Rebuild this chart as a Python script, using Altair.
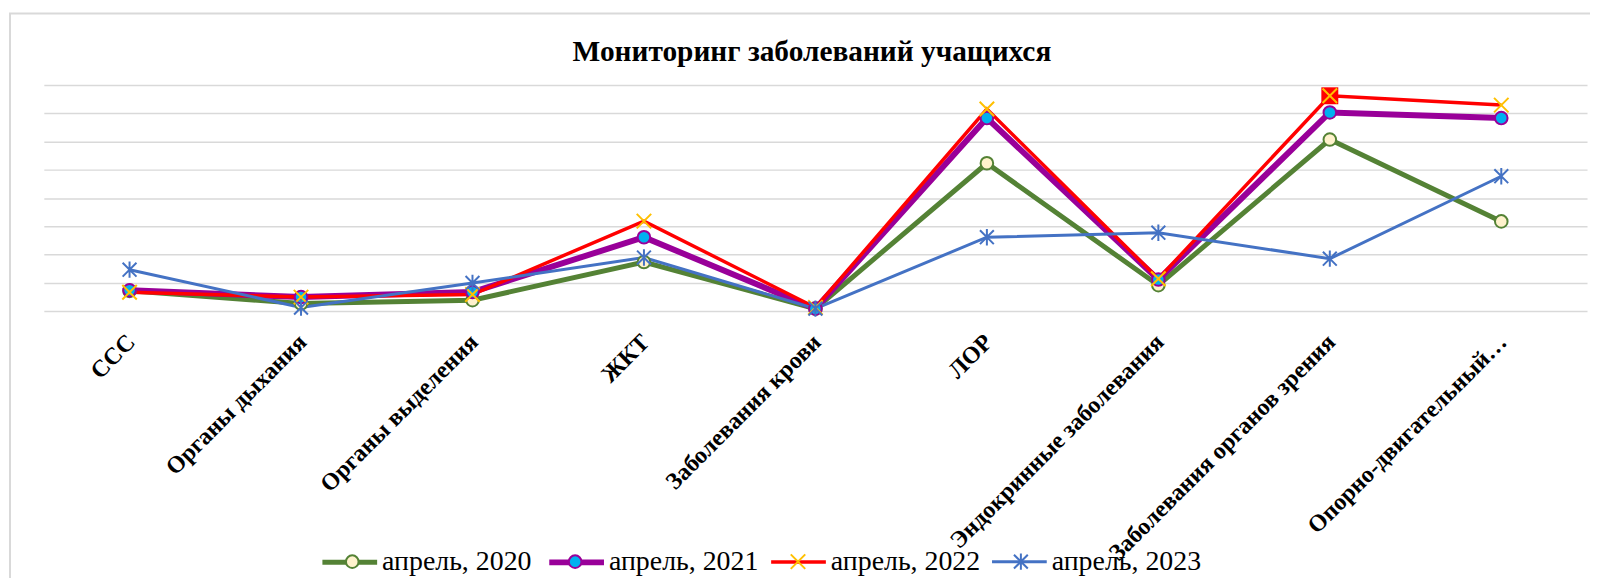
import altair as alt
import pandas as pd

# ---- data (in gridline units) ----
categories = [
    "ССС",
    "Органы дыхания",
    "Органы выделения",
    "ЖКТ",
    "Заболевания крови",
    "ЛОР",
    "Эндокринные заболевания",
    "Заболевания органов зрения",
    "Опорно-двигательный…",
]
series_names = ["апрель, 2020", "апрель, 2021", "апрель, 2022", "апрель, 2023"]
v2020 = [0.71, 0.26, 0.38, 1.73, 0.08, 5.23, 0.91, 6.07, 3.17]
v2021 = [0.73, 0.49, 0.67, 2.61, 0.08, 6.83, 1.11, 7.03, 6.83]
v2022 = [0.66, 0.49, 0.58, 3.18, 0.12, 7.15, 1.14, 7.62, 7.29]
v2023 = [1.46, 0.12, 0.99, 1.89, 0.08, 2.61, 2.77, 1.85, 4.77]
highlight_category = "Заболевания органов зрения"
highlight_series = "апрель, 2022"

# ---- styles ----
line_colors = ["#548235", "#990099", "#ff0000", "#4472c4"]
line_widths = [5, 6, 3.5, 3]
X_PATH = "M-1.15,-1.15L1.15,1.15M-1.15,1.15L1.15,-1.15"
STAR_PATH = "M-1.1,-1.1L1.1,1.1M-1.1,1.1L1.1,-1.1M0,-1.3L0,1.3"
marker_shapes = ["circle", "circle", X_PATH, STAR_PATH]
marker_fills = ["#fff2cc", "#00b0f0", "transparent", "transparent"]
marker_strokes = ["#548235", "#990099", "#ffc000", "#4472c4"]

rows = []
for name, vals in zip(series_names, [v2020, v2021, v2022, v2023]):
    for c, v in zip(categories, vals):
        rows.append({"category": c, "series": name, "series_m": name, "value": v})
df = pd.DataFrame(rows)

W, H = 1551, 227
FONT = "Liberation Serif"

x = alt.X(
    "category:N",
    sort=categories,
    scale=alt.Scale(type="point", padding=0.5),
    axis=alt.Axis(
        title=None, labelAngle=-45, labelFont=FONT, labelFontWeight="bold",
        labelFontSize=24, labelColor="black", labelPadding=19, labelOffset=-7,
        ticks=False, domain=False, grid=False, labelLimit=1000, labelOverlap=False,
    ),
)
y = alt.Y(
    "value:Q",
    scale=alt.Scale(domain=[0, 8], nice=False, zero=True),
    axis=alt.Axis(
        title=None, labels=False, ticks=False, domain=False,
        values=list(range(9)), grid=True, gridColor="#d9d9d9", gridWidth=1.5,
    ),
)

LX, LY = 277, 449

lines = alt.Chart(df).mark_line().encode(
    x=x,
    y=y,
    color=alt.Color(
        "series:N",
        scale=alt.Scale(domain=series_names, range=line_colors),
        legend=alt.Legend(
            title=None, orient="none", direction="horizontal", columns=4,
            legendX=LX, legendY=LY, symbolType="stroke", symbolSize=3025,
            symbolStrokeWidth=5, labelOffset=2, labelFont=FONT,
            labelFontSize=28, labelColor="black", columnPadding=5, labelLimit=500,
        ),
    ),
    strokeWidth=alt.StrokeWidth(
        "series:N",
        scale=alt.Scale(type="ordinal", domain=series_names, range=line_widths),
        legend=None,
    ),
)

pleg = alt.Legend(
    title=None, orient="none", direction="horizontal", columns=4,
    legendX=LX + 19, legendY=LY + 16, symbolSize=160, symbolStrokeWidth=2,
    labelExpr="''", labelOffset=0, labelFontSize=28, columnPadding=196,
)
points = alt.Chart(df).mark_point(size=160, strokeWidth=2, opacity=1).encode(
    x=x,
    y=y,
    shape=alt.Shape("series_m:N", scale=alt.Scale(range=marker_shapes), legend=pleg),
    fill=alt.Fill("series_m:N", scale=alt.Scale(range=marker_fills), legend=pleg),
    stroke=alt.Stroke("series_m:N", scale=alt.Scale(range=marker_strokes), legend=pleg),
)

square = (
    alt.Chart(df)
    .transform_filter(
        (alt.datum.category == highlight_category) & (alt.datum.series == highlight_series)
    )
    .mark_square(size=290, color="#ff0000", opacity=1)
    .encode(x=x, y=y)
)

frame = alt.Chart(alt.Data(values=[{}])).mark_rect(
    fill="transparent", stroke="#d9d9d9", strokeWidth=2
).encode(
    x=alt.value(-34), x2=alt.value(W + 40), y=alt.value(-72), y2=alt.value(H + 400)
)

chart = (
    alt.layer(frame, lines, square, points)
    .properties(
        width=W,
        height=H,
        autosize=alt.AutoSizeParams(type="none"),
        padding={"left": 36, "top": 76, "right": 3, "bottom": 267},
        title=alt.Title(
            "Мониторинг заболеваний учащихся", font=FONT, fontSize=29.5,
            fontWeight="bold", color="black", offset=0, dy=55,
            anchor="middle", dx=-3.5,
        ),
        background="white",
    )
    .configure_view(stroke=None)
)

chart.save("out.html", embed_options={"renderer": "svg", "actions": False})
